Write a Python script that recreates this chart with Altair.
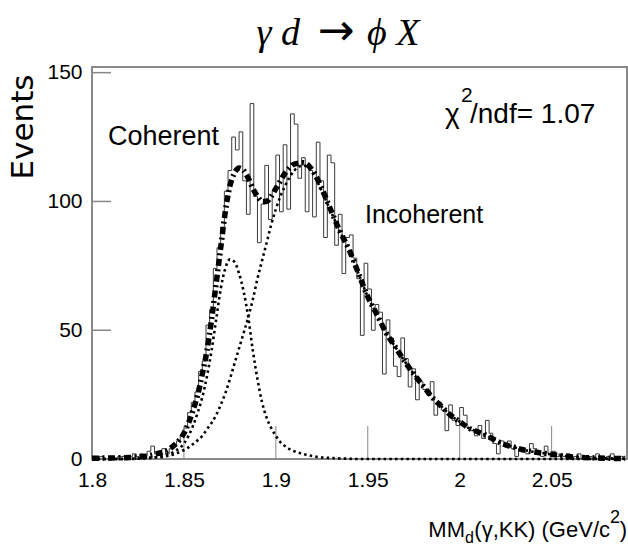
import altair as alt
import pandas as pd

# ---------------- data ----------------
BIN_START = 1.800
BIN_WIDTH = 0.002
counts = [1, 0, 1, 0, 0, 1, 0, 1, 1, 0,
          1, 2, 1, 2, 1, 3, 5, 2, 3, 4,
          2, 4, 5, 7, 9, 12, 18, 22, 26, 34,
          38, 52, 58, 74, 82, 90, 104, 112, 125, 120,
          127, 108, 95, 138, 102, 84, 99, 114, 93, 104,
          118, 96, 122, 97, 134, 130, 109, 117, 96, 112,
          94, 123, 108, 86, 118, 115, 83, 95, 72, 86,
          87, 78, 70, 48, 76, 66, 50, 60, 57, 33,
          54, 47, 36, 32, 47, 39, 28, 35, 23, 30,
          27, 25, 30, 17, 22, 19, 11, 21, 15, 13,
          20, 17, 12, 11, 9, 13, 8, 15, 10, 6,
          2, 7, 5, 7, 4, 1, 4, 3, 2, 6,
          4, 3, 1, 5, 2, 3, 1, 2, 1, 2,
          0, 1, 2, 0, 1, 1, 0, 2, 1, 0,
          1, 2, 0, 1, 1]

fit_x = [1.800, 1.810, 1.820, 1.825, 1.830, 1.835, 1.840, 1.845,
         1.850, 1.8525, 1.855, 1.8575, 1.860, 1.8625, 1.865, 1.8675,
         1.870, 1.8725, 1.875, 1.8775, 1.880, 1.8825, 1.885, 1.8875,
         1.890, 1.8925, 1.895, 1.8975, 1.900, 1.9025, 1.905, 1.9075,
         1.910, 1.915, 1.920, 1.925, 1.930, 1.935, 1.940, 1.945,
         1.950, 1.955, 1.960, 1.965, 1.970, 1.975, 1.980, 1.985,
         1.990, 1.995, 2.000, 2.005, 2.010, 2.015, 2.020, 2.025,
         2.030, 2.035, 2.040, 2.045, 2.050, 2.055, 2.060, 2.065,
         2.070, 2.075, 2.080, 2.085, 2.090]

coherent = [0, 0, 0.1, 0.2, 0.4, 0.8, 1.5, 3,
            6, 9, 13, 18, 24, 32, 42, 54,
            66, 74, 77.5, 76.5, 72, 65, 55, 42,
            31, 22, 16, 12, 9, 6.5, 5, 3.8,
            3, 1.9, 1.1, 0.6, 0.4, 0.2, 0.1, 0,
            0, 0, 0, 0, 0, 0, 0, 0,
            0, 0, 0, 0, 0, 0, 0, 0,
            0, 0, 0, 0, 0, 0, 0, 0,
            0, 0, 0, 0, 0]

incoherent = [0, 0, 0, 0.1, 0.3, 0.6, 1, 2,
              3.5, 4.5, 5.8, 7.3, 9, 11.5, 14, 17,
              21, 25.5, 31, 37, 43, 49, 55, 62,
              70, 77, 84, 91, 97, 102, 106, 109.5,
              112, 114, 111, 104, 96, 88, 81, 72,
              63, 56, 49, 43.5, 38, 33, 28.5, 24,
              20.5, 17, 14.5, 12, 10.5, 9, 7, 5.5,
              4.5, 3.5, 2.8, 2.3, 1.8, 1.3, 0.9, 0.7,
              0.5, 0.4, 0.3, 0.2, 0.2]

total = [0.3, 0.4, 0.6, 0.8, 1.2, 2, 3, 5.5,
         10, 14, 19, 25, 33, 42, 54, 68,
         82, 96, 106, 111, 113, 112, 109, 105,
         102, 100, 100, 102, 105, 108, 111, 113,
         114.5, 115, 112, 105, 96.5, 88.2, 81, 72,
         63, 56, 49, 43.5, 38, 33, 28.5, 24,
         20.5, 17, 14.5, 12, 10.5, 9, 7, 5.5,
         4.5, 3.5, 2.8, 2.3, 1.8, 1.3, 0.9, 0.7,
         0.5, 0.4, 0.3, 0.2, 0.2]

x_ticks = [1.8, 1.85, 1.9, 1.95, 2.0, 2.05]
y_ticks = [0, 50, 100, 150]

title_left = "γ d"
title_arrow = "→"
title_right = "ϕ X"
ylabel_text = "Events"
chi2_sym = "χ"
chi2_sup = "2"
chi2_rest = "/ndf= 1.07"
label_coh = "Coherent"
label_incoh = "Incoherent"
xt_main = "MM"
xt_sub = "d"
xt_mid = "(γ,KK) (GeV/c"
xt_sup = "2"
xt_end = ")"

# ---------------- build ----------------
edges = [BIN_START + BIN_WIDTH * i for i in range(len(counts) + 1)]
hist_df = pd.DataFrame({"x": edges, "y": counts + [counts[-1]]})
fit_df = pd.DataFrame({"x": fit_x, "coh": coherent, "inc": incoherent, "tot": total})

W, H = 535, 392
XDOM = [1.8, 2.091]
YDOM = [0, 152.2]
SANS = "Liberation Sans, Arial, sans-serif"
SERIF = "Liberation Serif, Times New Roman, serif"

xs = alt.Scale(domain=XDOM, nice=False, zero=False)
ys = alt.Scale(domain=YDOM, nice=False, zero=True)

x_axis = alt.Axis(values=x_ticks, format="~g", ticks=False, domain=False, grid=False,
                  labelFont=SANS, labelFontSize=21, labelColor="black",
                  labelPadding=10, title=None, labelFlush=False)
y_axis = alt.Axis(values=y_ticks, ticks=False, domain=False, grid=False,
                  labelFont=SANS, labelFontSize=21, labelColor="black",
                  labelPadding=10, title=None, labelFlush=False)

hist = alt.Chart(hist_df).mark_line(interpolate="step-after", color="#3a3a3a",
                                    strokeWidth=1).encode(
    x=alt.X("x:Q", scale=xs, axis=x_axis),
    y=alt.Y("y:Q", scale=ys, axis=y_axis),
)

base = alt.Chart(fit_df)
coh_line = base.mark_line(interpolate="monotone", color="black", strokeWidth=2.6,
                          strokeDash=[2.5, 3.2], strokeCap="butt").encode(
    x=alt.X("x:Q", scale=xs), y=alt.Y("coh:Q", scale=ys))
inc_line = base.mark_line(interpolate="monotone", color="black", strokeWidth=2.6,
                          strokeDash=[2.5, 3.2], strokeCap="butt").encode(
    x=alt.X("x:Q", scale=xs), y=alt.Y("inc:Q", scale=ys))
tot_line = base.mark_line(interpolate="monotone", color="black", strokeWidth=5.5,
                          strokeDash=[7, 3.5, 2, 3.5], strokeCap="butt").encode(
    x=alt.X("x:Q", scale=xs), y=alt.Y("tot:Q", scale=ys))

xtick_df = pd.DataFrame({"v": x_ticks[1:]})
xticks = alt.Chart(xtick_df).mark_rule(color="#888888", strokeWidth=1).encode(
    x=alt.X("v:Q", scale=xs), y=alt.value(H), y2=alt.value(H - 33))
ytick_df = pd.DataFrame({"v": y_ticks})
yticks = alt.Chart(ytick_df).mark_rule(color="#888888", strokeWidth=1.5).encode(
    y=alt.Y("v:Q", scale=ys), x=alt.value(0), x2=alt.value(19))


def txt(s, px, py, size, font=SANS, align="left", baseline="alphabetic",
        angle=0, style="normal"):
    kw = dict(align=align, baseline=baseline, fontSize=size, font=font,
              color="black", fontStyle=style)
    if angle:
        kw["angle"] = angle
    return alt.Chart(pd.DataFrame({"t": [s]})).mark_text(**kw).encode(
        x=alt.value(px), y=alt.value(py), text="t:N")


texts = [
    txt(title_left, 208, -22, 38, font=SERIF, align="right", style="italic"),
    txt(title_arrow, 244, -22, 44, font="DejaVu Sans, sans-serif", align="center"),
    txt(title_right, 275, -22, 38, font=SERIF, align="left", style="italic"),
    txt(ylabel_text, -68, 60, 31, font="DejaVu Sans, sans-serif", align="center",
        baseline="middle", angle=270),
    txt(chi2_sym, 353, 56, 28),
    txt(chi2_sup, 369, 35, 21),
    txt(chi2_rest, 378, 56, 28),
    txt(label_coh, 16, 78, 27),
    txt(label_incoh, 273, 156, 25),
    txt(xt_end, 535, 470, 22, align="right"),
    txt(xt_sup, 528, 456, 18, align="right"),
    txt(xt_mid, 518, 470, 22, align="right"),
    txt(xt_sub, 382, 476, 16, align="right"),
    txt(xt_main, 373, 470, 22, align="right"),
]

chart = alt.layer(hist, xticks, yticks, inc_line, coh_line, tot_line, *texts).properties(
    width=W, height=H,
    padding={"left": 92, "top": 67, "right": 1, "bottom": 97},
    autosize=alt.AutoSizeParams(type="none"),
    background="white",
).configure_view(stroke="#8a8a8a", strokeWidth=2)

chart.save("out.html", embed_options={"renderer": "svg", "actions": False})
